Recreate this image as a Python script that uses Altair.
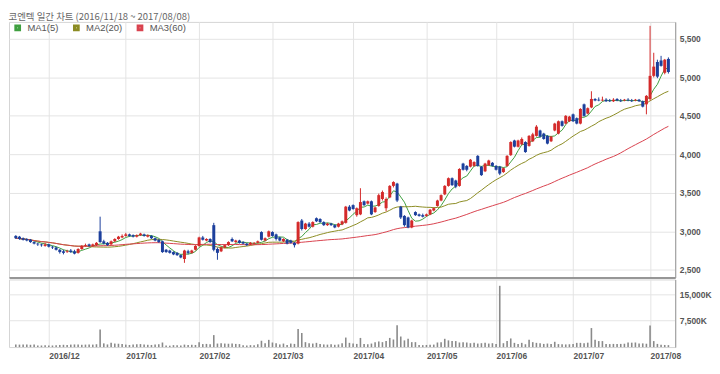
import altair as alt
import pandas as pd

title_text = "코엔텍 일간 차트 (2016/11/18 ~ 2017/08/08)"
month_idx = [9, 30, 50, 70, 92, 112, 131, 152, 173]
month_labels = ["2016/12", "2017/01", "2017/02", "2017/03", "2017/04",
                "2017/05", "2017/06", "2017/07", "2017/08"]
price_ticks = [2500, 3000, 3500, 4000, 4500, 5000, 5500]
volume_ticks = [7500, 15000]
ma_keys = ["ma5", "ma20", "ma60"]
ma_names = ["MA1(5)", "MA2(20)", "MA3(60)"]

opens = [
    2940, 2930, 2910, 2900, 2890, 2860, 2840, 2830, 2810, 2830,
    2800, 2790, 2760, 2740, 2730, 2750, 2740, 2720, 2770, 2810,
    2830, 2810, 2820, 3000, 2870, 2850, 2830, 2870, 2900, 2920,
    2940, 2960, 2950, 2930, 2950, 2960, 2930, 2940, 2910, 2890,
    2870, 2760, 2750, 2730, 2720, 2690, 2640, 2740, 2720, 2760,
    2810, 2920, 2880, 2900, 3080, 2770, 2740, 2790, 2820, 2900,
    2860, 2880, 2860, 2840, 2830, 2840, 2850, 2990, 2880, 2930,
    2990, 2960, 2920, 2870, 2890, 2880, 2850, 2840, 3140, 3030,
    3100, 3060, 3170, 3160, 3120, 3080, 3100, 3080, 3060, 3090,
    3110, 3320, 3340, 3210, 3220, 3390, 3360, 3390, 3250, 3330,
    3420, 3300, 3440, 3590, 3620, 3320, 3200, 3180, 3050, 3250,
    3220, 3210, 3200, 3220, 3270, 3330, 3400, 3480, 3590, 3690,
    3660, 3590, 3880, 3850, 3840, 3850, 3980, 3840, 3780, 3860,
    3890, 3850, 3840, 3770, 3850, 3990, 4180, 4100, 4130, 4160,
    4110, 4170, 4240, 4310, 4270, 4240, 4170, 4310, 4270, 4430,
    4400, 4430, 4520, 4470, 4400, 4650, 4530, 4610, 4720, 4710,
    4700, 4710, 4700, 4690, 4720, 4700, 4700, 4710, 4700, 4700,
    4710, 4690, 4650, 4720, 5020, 5200, 5220, 5060, 5240,
]
highs = [
    2950, 2940, 2920, 2910, 2900, 2870, 2850, 2840, 2850, 2840,
    2810, 2800, 2770, 2760, 2760, 2770, 2760, 2780, 2820, 2840,
    2840, 2840, 2860, 3190, 2890, 2860, 2880, 2910, 2940, 2960,
    2980, 2970, 2960, 2960, 2980, 2970, 2960, 2950, 2920, 2900,
    2880, 2770, 2760, 2740, 2730, 2700, 2760, 2760, 2760, 2820,
    2930, 2940, 2910, 2910, 3110, 2790, 2800, 2830, 2870, 2920,
    2890, 2890, 2870, 2850, 2860, 2860, 2880, 3000, 2920, 3010,
    3000, 2970, 2930, 2910, 2900, 2890, 2860, 3130, 3160, 3110,
    3120, 3130, 3180, 3170, 3130, 3110, 3110, 3090, 3110, 3140,
    3330, 3340, 3350, 3310, 3560, 3400, 3400, 3400, 3320, 3490,
    3530, 3440, 3600, 3650, 3630, 3330, 3210, 3190, 3150, 3260,
    3230, 3230, 3230, 3290, 3310, 3410, 3480, 3600, 3700, 3700,
    3670, 3820, 3890, 3860, 3940, 3910, 3990, 3850, 3890, 3930,
    3900, 3860, 3850, 3830, 3990, 4170, 4190, 4190, 4220, 4170,
    4250, 4280, 4380, 4320, 4280, 4250, 4240, 4410, 4440, 4440,
    4510, 4500, 4530, 4480, 4600, 4660, 4610, 4820, 4730, 4740,
    4750, 4730, 4720, 4730, 4730, 4720, 4720, 4730, 4720, 4720,
    4720, 4700, 4770, 5670, 5320, 5230, 5280, 5240, 5260,
]
lows = [
    2900, 2890, 2880, 2870, 2850, 2830, 2810, 2800, 2800, 2790,
    2770, 2750, 2710, 2700, 2720, 2720, 2700, 2710, 2760, 2800,
    2800, 2800, 2810, 2850, 2830, 2810, 2820, 2860, 2890, 2910,
    2930, 2930, 2920, 2920, 2940, 2930, 2920, 2900, 2870, 2850,
    2720, 2720, 2710, 2690, 2680, 2650, 2590, 2700, 2710, 2750,
    2800, 2880, 2870, 2850, 2740, 2630, 2730, 2780, 2810, 2860,
    2850, 2840, 2830, 2810, 2820, 2830, 2840, 2880, 2870, 2920,
    2930, 2880, 2870, 2860, 2830, 2840, 2790, 2830, 3010, 3020,
    3050, 3050, 3120, 3110, 3070, 3070, 3070, 3040, 3050, 3080,
    3100, 3260, 3280, 3190, 3210, 3330, 3350, 3210, 3240, 3320,
    3400, 3260, 3430, 3570, 3380, 3160, 3060, 3040, 3040, 3200,
    3190, 3180, 3190, 3210, 3260, 3320, 3390, 3470, 3580, 3590,
    3560, 3580, 3790, 3780, 3830, 3840, 3840, 3720, 3770, 3850,
    3840, 3790, 3730, 3760, 3840, 3980, 4090, 4090, 4120, 4020,
    4100, 4160, 4230, 4220, 4190, 4130, 4160, 4300, 4260, 4360,
    4390, 4420, 4420, 4390, 4390, 4490, 4520, 4600, 4690, 4690,
    4690, 4680, 4680, 4680, 4690, 4680, 4690, 4690, 4680, 4690,
    4680, 4610, 4520, 4700, 5000, 4990, 5140, 5040, 5050,
]
closes = [
    2910, 2900, 2890, 2880, 2860, 2840, 2830, 2820, 2830, 2800,
    2790, 2760, 2730, 2720, 2740, 2730, 2710, 2770, 2810, 2820,
    2810, 2830, 2850, 2860, 2840, 2820, 2870, 2900, 2930, 2940,
    2960, 2940, 2930, 2950, 2970, 2940, 2950, 2910, 2880, 2860,
    2730, 2730, 2720, 2700, 2690, 2660, 2750, 2720, 2750, 2810,
    2920, 2890, 2900, 2860, 2760, 2720, 2790, 2820, 2860, 2870,
    2880, 2850, 2840, 2820, 2850, 2850, 2870, 2890, 2910, 3000,
    2940, 2900, 2880, 2900, 2840, 2850, 2820, 3120, 3030, 3100,
    3060, 3120, 3130, 3120, 3080, 3100, 3080, 3050, 3100, 3130,
    3320, 3270, 3290, 3300, 3380, 3340, 3390, 3220, 3310, 3470,
    3510, 3420, 3590, 3640, 3400, 3180, 3080, 3050, 3140, 3210,
    3200, 3190, 3220, 3280, 3300, 3400, 3470, 3590, 3690, 3600,
    3580, 3810, 3800, 3800, 3930, 3900, 3850, 3730, 3880, 3920,
    3850, 3800, 3750, 3820, 3980, 4160, 4100, 4180, 4200, 4030,
    4240, 4260, 4360, 4230, 4200, 4140, 4230, 4400, 4430, 4370,
    4500, 4490, 4430, 4400, 4590, 4500, 4600, 4720, 4700, 4700,
    4710, 4690, 4690, 4710, 4700, 4690, 4710, 4700, 4690, 4710,
    4690, 4620, 4760, 5020, 5140, 5010, 5150, 5230, 5070,
]
volumes_k = [
    750, 700, 750, 700, 650, 700, 450, 450, 500, 450,
    450, 500, 600, 650, 600, 700, 750, 700, 650, 700,
    750, 700, 800, 5000, 1050, 750, 1200, 1000, 950, 900,
    700, 600, 750, 800, 850, 700, 650, 600, 700, 800,
    1300, 450, 400, 550, 500, 450, 700, 600, 650, 600,
    1400, 850, 900, 800, 3400, 1000, 1100, 1000, 950, 1000,
    900, 850, 500, 450, 550, 500, 800, 1800, 1100, 2050,
    1300, 1100, 750, 1000, 560, 1000, 900, 5150, 4000, 1400,
    1100, 1000, 1200, 850, 750, 700, 800, 650, 750, 1100,
    2700, 1200, 1000, 900, 2600, 900, 800, 1000, 1400, 1600,
    1400, 1700, 2600, 2150, 6200, 3000, 1900, 2350, 1400, 1400,
    600, 550, 600, 650, 700, 1300, 1400, 2350, 1900, 1700,
    1700, 1300, 1400, 1300, 1100, 1200, 1000, 1100, 1200, 1000,
    1100, 900, 17400, 1100, 1700, 2450, 1200, 850, 1200, 800,
    2050, 1400, 1200, 1100, 900, 1000, 850, 1500, 850, 800,
    750, 800, 900, 1200, 1200, 1100, 1250, 5400, 2050, 1700,
    1700, 900, 850, 900, 850, 900, 950, 1300, 1250, 1300,
    1000, 1050, 950, 6100, 1700, 900, 650, 600, 550,
]

n = min(len(opens), len(highs), len(lows), len(closes), len(volumes_k))
df = pd.DataFrame({
    "idx": list(range(n)),
    "open": opens[:n], "high": highs[:n], "low": lows[:n],
    "close": closes[:n], "volume": volumes_k[:n],
})
df["dir"] = ["up" if c >= o else "down" for o, c in zip(df["open"], df["close"])]

FONT = "Liberation Sans"
GRID = "#e4e4e4"
xscale = alt.Scale(domain=[-0.5, n - 0.5], nice=False, zero=False)
month_expr = "[" + ",".join("'%s'" % m for m in month_labels) + "][indexof([" + \
    ",".join(str(v) for v in month_idx) + "], datum.value)]"

x_top = alt.X("idx:Q", scale=xscale, axis=alt.Axis(
    values=month_idx, labels=False, ticks=False, grid=True, gridColor=GRID,
    domain=True, domainColor="#7a7a7a", domainWidth=1.6, title=None))
pscale = alt.Scale(domain=[2400, 5721], nice=False, zero=False)
y_price_axis = alt.Axis(orient="right", values=price_ticks,
                        labelExpr="format(datum.value, ',')", grid=True,
                        gridColor=GRID, ticks=False, domainColor="#999",
                        labelFont=FONT, labelFontWeight="bold", labelFontSize=8.5,
                        labelColor="#555", labelPadding=4, title=None)
dir_color = alt.Color("dir:N", scale=alt.Scale(domain=["up", "down"],
                      range=["#d42a2a", "#1c3f9c"]), legend=None)

base = alt.Chart(df)

ma = base.transform_window(
    ma5="mean(close)", frame=[-4, 0], sort=[alt.SortField("idx")]
).transform_window(
    ma20="mean(close)", frame=[-19, 0], sort=[alt.SortField("idx")]
).transform_window(
    ma60="mean(close)", frame=[-59, 0], sort=[alt.SortField("idx")]
).transform_fold(ma_keys, as_=["series", "value"]).mark_line(strokeWidth=1).encode(
    x=x_top,
    y=alt.Y("value:Q", scale=pscale, axis=y_price_axis),
    stroke=alt.Stroke("series:N", scale=alt.Scale(domain=ma_keys,
                      range=["#3f9f3f", "#8c8c23", "#d9434f"]),
                      legend=alt.Legend(
                          orient="none", legendX=4, legendY=1, direction="horizontal",
                          title=None, symbolType="square", symbolSize=14,
                          symbolStrokeWidth=3, labelFont=FONT, labelFontSize=9.5,
                          labelColor="#555", labelOffset=5, columnPadding=9, padding=0,
                          labelExpr="datum.label == 'ma5' ? '%s' : datum.label == 'ma20' ? '%s' : '%s'"
                          % tuple(ma_names))),
)

wicks = base.mark_rule(strokeWidth=1).encode(
    x=x_top, y=alt.Y("low:Q", scale=pscale, axis=y_price_axis), y2="high:Q",
    color=dir_color)
bodies = base.mark_bar(size=3).encode(
    x=x_top, y=alt.Y("open:Q", scale=pscale, axis=y_price_axis), y2="close:Q",
    color=dir_color)

price = alt.layer(ma, wicks, bodies).properties(width=670, height=257)

vol = base.mark_bar(size=1.6, color="#8a8a8a").encode(
    x=alt.X("idx:Q", scale=xscale, axis=alt.Axis(
        values=month_idx, labelExpr=month_expr, grid=True, gridColor=GRID,
        ticks=False, domain=False, labelAlign="left", labelFont=FONT,
        labelFontWeight="bold", labelFontSize=8.5, labelColor="#555",
        labelPadding=4, title=None)),
    y=alt.Y("volume:Q", scale=alt.Scale(domain=[0, 19200], nice=False), axis=alt.Axis(
        orient="right", values=volume_ticks, labelExpr="format(datum.value, ',') + 'K'",
        grid=True, gridColor=GRID, ticks=False, domainColor="#999",
        labelFont=FONT, labelFontWeight="bold", labelFontSize=8.5,
        labelColor="#555", labelPadding=4, title=None)),
).properties(width=670, height=68)

chart = alt.vconcat(price, vol, spacing=0).properties(
    title=alt.TitleParams(title_text, anchor="start", fontSize=9.5,
                          font="Noto Sans CJK KR", color="#666",
                          fontWeight="normal", offset=0, baseline="top"),
    padding={"left": 0, "top": 3, "right": 0, "bottom": 0},
).configure_view(stroke="#d5d5d5")

chart.save("out.html", embed_options={"renderer": "svg", "actions": False})
